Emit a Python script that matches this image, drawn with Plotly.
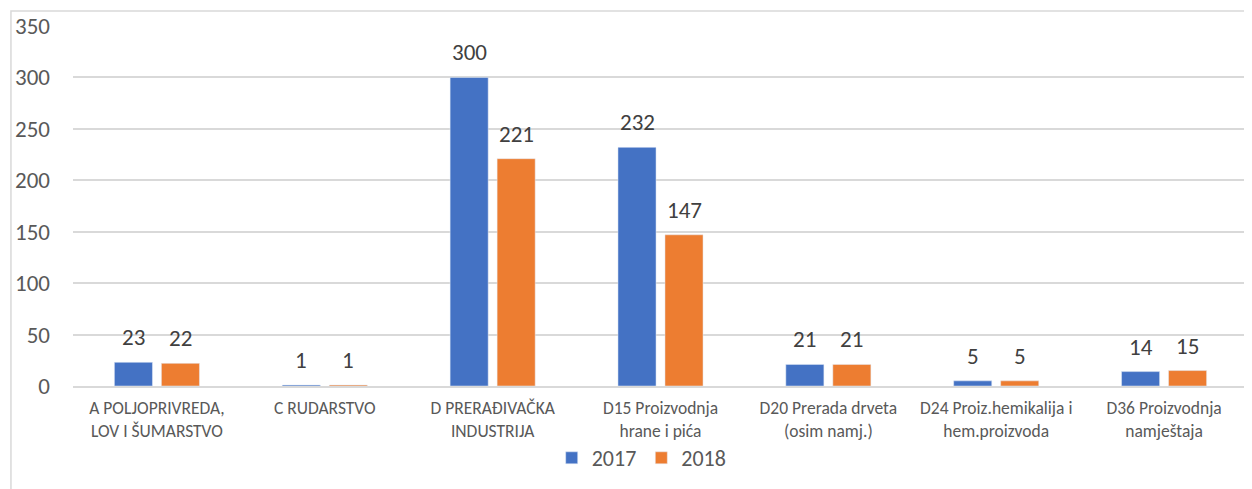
import plotly.graph_objects as go

categories = ["A POLJOPRIVREDA,<br>LOV I ŠUMARSTVO", "C RUDARSTVO", "D PRERAĐIVAČKA<br>INDUSTRIJA",
              "D15 Proizvodnja<br>hrane i pića", "D20 Prerada drveta<br>(osim namj.)",
              "D24 Proiz.hemikalija i<br>hem.proizvoda", "D36 Proizvodnja<br>namještaja"]
values_2017 = [23, 1, 300, 232, 21, 5, 14]
values_2018 = [22, 1, 221, 147, 21, 5, 15]
y_ticks = [0, 50, 100, 150, 200, 250, 300, 350]

FONT = "Carlito, Lato, 'Open Sans', sans-serif"
LABEL_COLOR = "#404040"

fig = go.Figure()
fig.add_trace(go.Bar(name="2017", x=categories, y=values_2017, marker_color="#4472C4"))
fig.add_trace(go.Bar(name="2018", x=categories, y=values_2018, marker_color="#ED7D31"))

annotations = []
for vals, shift in ((values_2017, -23.5), (values_2018, 23.5)):
    for c, v in zip(categories, vals):
        annotations.append(dict(x=c, y=v, xref="x", yref="y", text=str(v), showarrow=False,
                                xshift=shift, yshift=25, yanchor="middle",
                                font=dict(size=23, color=LABEL_COLOR, family=FONT)))

fig.update_layout(
    width=1252, height=489,
    margin=dict(l=65, r=12, t=18, b=111, autoexpand=False),
    paper_bgcolor="white", plot_bgcolor="white",
    barmode="group", bargap=0.44, bargroupgap=0.19,
    font=dict(family=FONT, color="#595959"),
    showlegend=True,
    legend=dict(orientation="h", x=0.484, xanchor="center", y=-0.2, yanchor="middle",
                bgcolor="rgba(0,0,0,0)",
                font=dict(size=22, color="#595959"), traceorder="normal"),
    annotations=annotations,
    shapes=[dict(type="rect", xref="paper", yref="paper", x0=-0.0528, x1=1.02, y0=-0.45, y1=1.0417,
                 line=dict(color="#D9D9D9", width=1.5), fillcolor="rgba(0,0,0,0)", layer="below")],
)
fig.update_xaxes(showline=True, linecolor="#D9D9D9", linewidth=1.5, ticks="", automargin=False,
                 tickfont=dict(size=17.5, color="#595959"), tickangle=0, ticklabelstandoff=5)
fig.update_yaxes(range=[0, 350], tickvals=y_ticks, showgrid=True, gridcolor="#D9D9D9", gridwidth=1.5,
                 zeroline=False, showline=False, tickfont=dict(size=23, color="#595959"),
                 ticklabelstandoff=22, automargin=False)

fig.write_html("out.html")
